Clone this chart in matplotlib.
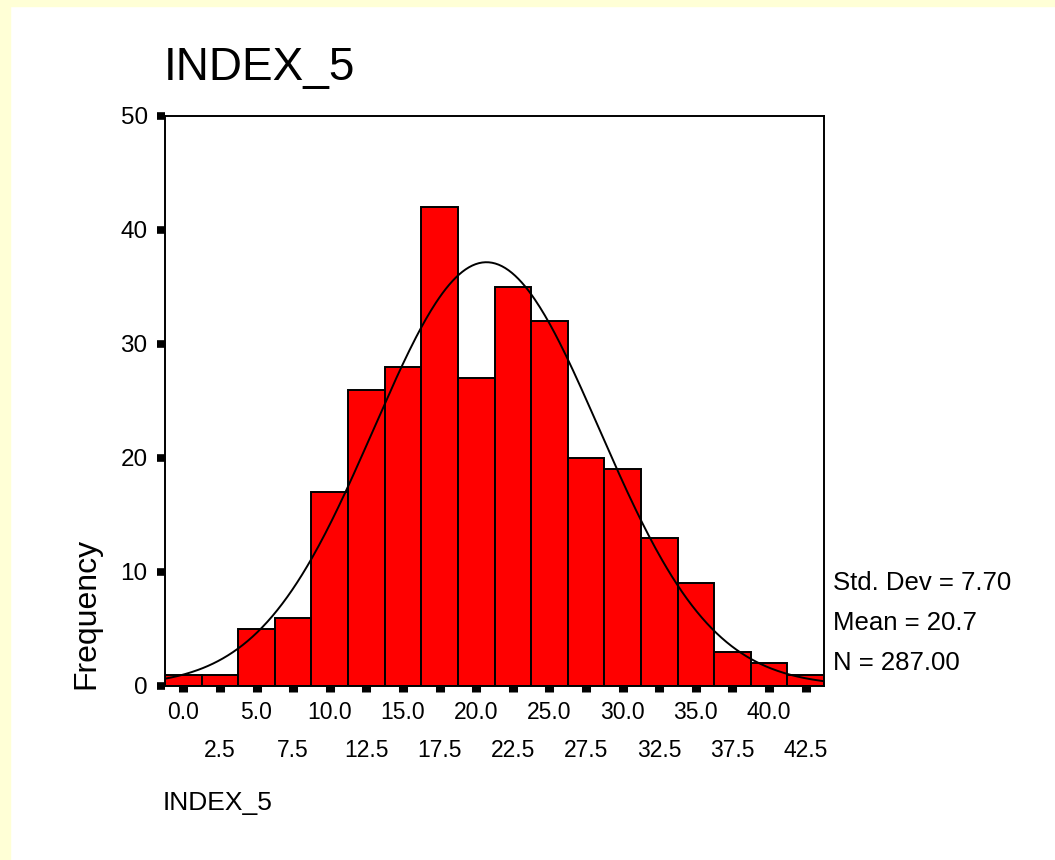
import numpy as np
import matplotlib.pyplot as plt
from matplotlib.patches import Rectangle

plt.rcParams['font.family'] = ['Liberation Sans', 'DejaVu Sans']

# histogram of INDEX_5 (bin centres, counts)
bin_centers = [0.0, 2.5, 5.0, 7.5, 10.0, 12.5, 15.0, 17.5, 20.0, 22.5,
               25.0, 27.5, 30.0, 32.5, 35.0, 37.5, 40.0, 42.5]
counts = [1, 1, 5, 6, 17, 26, 28, 42, 27, 35, 32, 20, 19, 13, 9, 3, 2, 1]
bin_width = 2.5
std_dev = 7.70
mean = 20.7
n_obs = 287
y_ticks = [0, 10, 20, 30, 40, 50]

fig = plt.figure(figsize=(10.55, 8.6), dpi=100, facecolor='white')
# light yellow frame at top and left
fig.patches.append(Rectangle((0, 0), 10 / 1055, 1, transform=fig.transFigure,
                             color='#FFFFD6', zorder=0))
fig.patches.append(Rectangle((0, 1 - 6 / 860), 1, 6 / 860, transform=fig.transFigure,
                             color='#FFFFD6', zorder=0))

ax = fig.add_axes([165 / 1055, 1 - 686 / 860, 659 / 1055, 570 / 860])
ax.bar(bin_centers, counts, width=bin_width, color='#FF0000',
       edgecolor='black', linewidth=1.4, zorder=2)

# fitted normal curve
xs = np.linspace(-1.25, 43.75, 400)
ys = n_obs * bin_width * np.exp(-0.5 * ((xs - mean) / std_dev) ** 2) / (std_dev * np.sqrt(2 * np.pi))
ax.plot(xs, ys, color='black', linewidth=1.4, zorder=3)

ax.set_xlim(-1.25, 43.75)
ax.set_ylim(0, 50)
for s in ax.spines.values():
    s.set_linewidth(1.4)

ax.set_yticks(y_ticks)
ax.set_yticklabels([str(t) for t in y_ticks])
ax.tick_params(axis='y', direction='out', length=5.5, width=5.5, pad=7, labelsize=17.5)

ax.set_xticks(bin_centers[::2])
ax.set_xticklabels(['%.1f' % v for v in bin_centers[::2]])
ax.set_xticks(bin_centers[1::2], minor=True)
ax.set_xticklabels(['%.1f' % v for v in bin_centers[1::2]], minor=True)
ax.tick_params(axis='x', which='major', direction='out', length=4, width=6.5, pad=7, labelsize=16.5)
ax.tick_params(axis='x', which='minor', direction='out', length=4, width=6.5, pad=34, labelsize=16.5)

fig.text(164 / 1055, 1 - 80 / 860, 'INDEX_5', fontsize=33, ha='left', va='baseline')
fig.text(163 / 1055, 1 - 803 / 860, 'INDEX_5', fontsize=19, ha='left', va='center')
fig.text(86 / 1055, 1 - 689 / 860, 'Frequency', fontsize=23, rotation=90,
         ha='center', va='bottom')

fig.text(833 / 1055, 1 - 583 / 860, 'Std. Dev = %.2f' % std_dev, fontsize=18.5, va='center')
fig.text(833 / 1055, 1 - 623 / 860, 'Mean = %.1f' % mean, fontsize=18.5, va='center')
fig.text(833 / 1055, 1 - 663 / 860, 'N = %.2f' % n_obs, fontsize=18.5, va='center')

fig.savefig('out.png', dpi=100, facecolor=fig.get_facecolor())
